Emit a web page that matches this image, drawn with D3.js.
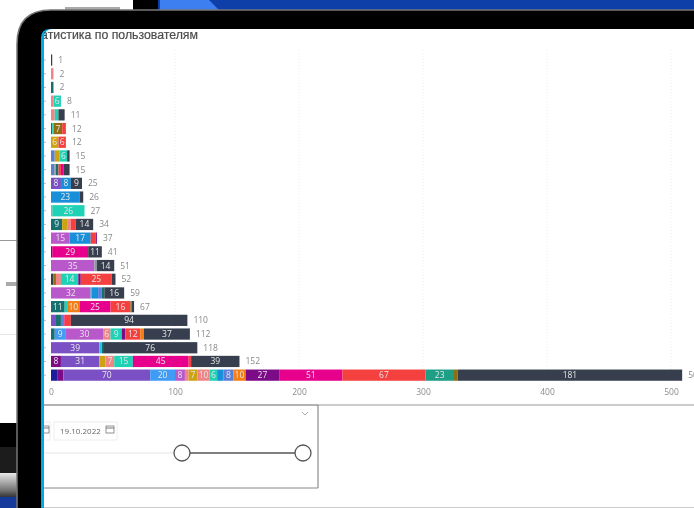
<!DOCTYPE html>
<html>
<head>
<meta charset="utf-8">
<style>
html, body { margin: 0; padding: 0; background: #fff; overflow: hidden; }
svg { display: block; filter: blur(0.35px); }
text { font-family: "Open Sans", sans-serif; }
</style>
<script src="https://cdn.jsdelivr.net/npm/d3@7"></script>
</head>
<body>
<div id="container"></div>
<script>
"use strict"

const titleText = "Статистика по пользователям";
const dateText = "19.10.2022";
const xTicks = [0, 100, 200, 300, 400, 500];

const rowTotals = [1, 2, 2, 8, 11, 12, 12, 15, 15, 25, 26, 27, 34, 37, 41, 51, 52, 59, 67, 110, 112, 118, 152, 509];

const rowValues = [
    [1],
    [2],
    [2],
    [2, 6],
    [3, 3, 5],
    [1, 1, 7, 3],
    [6, 6],
    [3, 4, 6, 2],
    [3, 1, 2, 2, 2, 5],
    [8, 8, 9],
    [23, 3],
    [1, 26],
    [9, 4, 3, 4, 14],
    [15, 17, 4, 1],
    [1, 29, 11],
    [35, 2, 14],
    [2, 2, 4, 14, 2, 25, 3],
    [32, 1, 5, 3, 2, 16],
    [11, 2, 10, 25, 16, 1, 2],
    [4, 4, 2, 1, 5, 94],
    [3, 9, 30, 6, 9, 3, 12, 3, 37],
    [39, 2, 1, 76],
    [8, 31, 5, 7, 15, 45, 2, 39],
    [5, 5, 70, 20, 8, 3, 7, 10, 6, 5, 8, 10, 27, 51, 67, 23, 3, 181]
];

const rowSeries = [
    ["slate"],
    ["salmon"],
    ["teal"],
    ["salmon", "turquoise"],
    ["salmon", "turquoise", "slate"],
    ["teal", "turquoise", "brown", "red"],
    ["gold", "red"],
    ["periwinkle", "gold", "turquoise", "slate"],
    ["periwinkle", "gold", "teal", "red", "magenta", "slate"],
    ["purple", "blue", "slate"],
    ["blue", "slate"],
    ["salmon", "turquoise"],
    ["teal", "gold", "salmon", "red", "slate"],
    ["orchid", "blue", "red", "violet"],
    ["violet", "magenta", "slate"],
    ["orchid", "grey", "slate"],
    ["slate", "brown", "salmon", "turquoise", "violet", "red", "slate"],
    ["orchid", "turquoise", "blue", "periwinkle", "teal", "slate"],
    ["teal", "turquoise", "orange", "magenta", "red", "brown", "slate"],
    ["purple", "teal", "periwinkle", "magenta", "red", "slate"],
    ["teal", "sky", "orchid", "salmon", "turquoise", "violet", "red", "orange", "slate"],
    ["purple", "cyan", "teal", "slate"],
    ["violet", "purple", "gold", "salmon", "turquoise", "magenta", "red", "slate"],
    ["navy", "violet", "purple", "sky", "orchid", "salmon", "gold", "salmon", "turquoise", "blue", "periwinkle", "orange", "violet", "magenta", "red", "green", "brown", "slate"]
];

const seriesColors = {
    slate: "#373f4e", salmon: "#f08585", teal: "#17706f", turquoise: "#1fd2b6",
    brown: "#8f6d12", red: "#f54040", gold: "#cda312", periwinkle: "#5b7fd8",
    purple: "#7a50c4", blue: "#1a8fd9", sky: "#3f9cf6", orchid: "#b858cb",
    violet: "#7c0b87", magenta: "#e6008c", grey: "#8a9aa0", orange: "#f57d12",
    cyan: "#22c6e2", navy: "#1c1c9c", green: "#1f9e86"
};

const labelMinValue = 6;
const width = 694;
const height = 508;
const screenLeft = 44;
const x = d3.scaleLinear().domain([0, 500]).range([51, 671]);
const y = d3.scaleBand().domain(d3.range(rowTotals.length)).range([53.2, 382]).paddingInner(0.18).paddingOuter(0.09);

let svg;
let defs;


function Main()
{
    svg = d3.select("#container").append("svg")
        .attr("width", width)
        .attr("height", height);
    defs = svg.append("defs");

    DrawDevice();
    DrawGrid();
    DrawBars();
    DrawAxis();
    DrawTitle();
    DrawSlicer();
};


function DrawDevice()
{
    const grad = defs.append("linearGradient")
        .attr("id", "keyboard")
        .attr("x1", 0).attr("x2", 0).attr("y1", 0).attr("y2", 1);
    grad.append("stop").attr("offset", "0%").attr("stop-color", "#e8e8e8");
    grad.append("stop").attr("offset", "70%").attr("stop-color", "#777");
    grad.append("stop").attr("offset", "100%").attr("stop-color", "#333");

    // what is behind the tablet
    svg.append("rect").attr("x", 133).attr("y", 0).attr("width", 25).attr("height", 11).attr("fill", "#000");
    svg.append("rect").attr("x", 158).attr("y", 0).attr("width", 536).attr("height", 11).attr("fill", "#0e3fa8");
    svg.append("path").attr("d", "M160,0 L209,0 L219,10 L160,10 Z").attr("fill", "#3d7ff0");
    svg.append("rect").attr("x", 65).attr("y", 7).attr("width", 55).attr("height", 3).attr("fill", "#aaa");

    svg.append("rect").attr("x", 0).attr("y", 240).attr("width", 18).attr("height", 1).attr("fill", "#999");
    svg.append("rect").attr("x", 6).attr("y", 282).attr("width", 12).attr("height", 4).attr("fill", "#aaa");
    svg.append("rect").attr("x", 0).attr("y", 309).attr("width", 18).attr("height", 1).attr("fill", "#e6e6e6");
    svg.append("rect").attr("x", 0).attr("y", 334).attr("width", 18).attr("height", 1).attr("fill", "#e6e6e6");
    svg.append("rect").attr("x", 0).attr("y", 423).attr("width", 18).attr("height", 24).attr("fill", "#000");
    svg.append("rect").attr("x", 0).attr("y", 447).attr("width", 18).attr("height", 26).attr("fill", "#1c1c1c");
    svg.append("rect").attr("x", 0).attr("y", 473).attr("width", 18).attr("height", 24).attr("fill", "url(#keyboard)");
    svg.append("rect").attr("x", 0).attr("y", 497).attr("width", 18).attr("height", 11).attr("fill", "#16399c");

    // tablet body and screen
    svg.append("path")
        .attr("d", "M17,520 L17,44 Q17,10 51,10 L700,10 L700,520 Z")
        .attr("fill", "#000")
        .attr("stroke", "#777")
        .attr("stroke-width", 1.5);
    svg.append("path")
        .attr("d", "M41,520 L41,38 Q41,29 50,29 L700,29 L700,520 Z")
        .attr("fill", "#00a8e8");
    svg.append("path")
        .attr("id", "screen")
        .attr("d", "M44,520 L44,38 Q44,29 53,29 L700,29 L700,520 Z")
        .attr("fill", "#fff");

    defs.append("clipPath").attr("id", "screenClip")
        .append("rect").attr("x", screenLeft).attr("y", 29).attr("width", width).attr("height", height);

    svg.append("rect").attr("x", screenLeft).attr("y", 507).attr("width", 650).attr("height", 1).attr("fill", "#ccc");
};


function DrawGrid()
{
    svg.append("g")
        .selectAll("line")
        .data(xTicks.slice(1))
        .enter()
        .append("line")
        .attr("x1", d => x(d))
        .attr("x2", d => x(d))
        .attr("y1", 50)
        .attr("y2", 369)
        .attr("stroke", "#eeeeee")
        .attr("stroke-dasharray", "1,2");

    // stubs of the y axis, the names are hidden by the tablet edge
    svg.append("g")
        .selectAll("line")
        .data(rowTotals)
        .enter()
        .append("line")
        .attr("x1", screenLeft)
        .attr("x2", screenLeft + 2)
        .attr("y1", (_, i) => y(i) + y.bandwidth() / 2)
        .attr("y2", (_, i) => y(i) + y.bandwidth() / 2)
        .attr("stroke", "#bbb");
};


function DrawBars()
{
    const rows = svg.append("g")
        .selectAll("g")
        .data(rowValues)
        .enter()
        .append("g");

    rows.each(function(values, i)
    {
        const sums = d3.cumsum(values);
        const segments = values.map((v, j) => ({
            value: v,
            start: sums[j] - v,
            end: sums[j],
            color: seriesColors[rowSeries[i][j]]
        }));
        const row = d3.select(this);

        row.selectAll("rect")
            .data(segments)
            .enter()
            .append("rect")
            .attr("x", d => x(d.start))
            .attr("y", y(i))
            .attr("width", d => x(d.end) - x(d.start))
            .attr("height", y.bandwidth())
            .attr("fill", d => d.color);

        row.selectAll("text")
            .data(segments.filter(d => d.value >= labelMinValue))
            .enter()
            .append("text")
            .attr("x", d => (x(d.start) + x(d.end)) / 2)
            .attr("y", y(i) + y.bandwidth() / 2)
            .attr("dy", "0.35em")
            .attr("text-anchor", "middle")
            .attr("font-size", 8.5)
            .attr("fill", "#e6e6e6")
            .text(d => d.value);

        row.append("text")
            .attr("x", x(rowTotals[i]) + 6)
            .attr("y", y(i) + y.bandwidth() / 2)
            .attr("dy", "0.35em")
            .attr("font-size", 8.5)
            .attr("fill", "#888")
            .text(rowTotals[i]);
    });
};


function DrawAxis()
{
    const axis = svg.append("g")
        .attr("transform", "translate(0,384)")
        .call(d3.axisBottom(x).tickValues(xTicks).tickSize(0).tickPadding(5));

    axis.select(".domain").remove();
    axis.selectAll("text")
        .attr("font-size", 8.5)
        .attr("font-family", "'Open Sans', sans-serif")
        .attr("fill", "#8c8c8c");
};


function DrawTitle()
{
    svg.append("text")
        .attr("clip-path", "url(#screenClip)")
        .attr("x", 198)
        .attr("y", 39)
        .attr("text-anchor", "end")
        .attr("font-family", "'Liberation Sans', sans-serif")
        .style("font-family", "'Liberation Sans', sans-serif")
        .attr("font-size", 12.3)
        .attr("fill", "#4d4d4d")
        .attr("stroke", "#4d4d4d")
        .attr("stroke-width", 0.2)
        .text(titleText);
};


function DrawSlicer()
{
    const g = svg.append("g").attr("clip-path", "url(#screenClip)");

    // panel borders
    g.append("line").attr("x1", screenLeft).attr("x2", 318).attr("y1", 405).attr("y2", 405)
        .attr("stroke", "#666").attr("stroke-width", 1.2);
    g.append("line").attr("x1", 318).attr("x2", 694).attr("y1", 405).attr("y2", 405)
        .attr("stroke", "#999").attr("stroke-width", 1);
    g.append("line").attr("x1", 318).attr("x2", 318).attr("y1", 405).attr("y2", 488)
        .attr("stroke", "#777");
    g.append("line").attr("x1", screenLeft).attr("x2", 318).attr("y1", 488).attr("y2", 488)
        .attr("stroke", "#888");

    // chevron
    g.append("path").attr("d", "M302,412 L305,415 L308,412")
        .attr("fill", "none").attr("stroke", "#aaa");

    // date boxes
    g.append("rect").attr("x", 30).attr("y", 422).attr("width", 20).attr("height", 18)
        .attr("fill", "none").attr("stroke", "#eee");
    g.append("rect").attr("x", 54).attr("y", 422).attr("width", 63).attr("height", 18)
        .attr("fill", "none").attr("stroke", "#eee");
    g.append("text").attr("x", 60).attr("y", 434)
        .attr("font-size", 8).attr("fill", "#666").text(dateText);
    DrawCalendar(g, 106, 426);
    DrawCalendar(g, 41, 426);

    // slider
    g.append("line").attr("x1", screenLeft).attr("x2", 174).attr("y1", 453).attr("y2", 453)
        .attr("stroke", "#eee").attr("stroke-width", 1.5);
    g.append("line").attr("x1", 182).attr("x2", 303).attr("y1", 453).attr("y2", 453)
        .attr("stroke", "#555").attr("stroke-width", 1.5);
    g.selectAll("circle")
        .data([182, 303])
        .enter()
        .append("circle")
        .attr("cx", d => d)
        .attr("cy", 453)
        .attr("r", 8)
        .attr("fill", "#fff")
        .attr("stroke", "#555")
        .attr("stroke-width", 1.3);
};


function DrawCalendar(g, left, top)
{
    g.append("rect").attr("x", left).attr("y", top).attr("width", 8).attr("height", 7)
        .attr("fill", "none").attr("stroke", "#777").attr("stroke-width", 0.8);
    g.append("line").attr("x1", left).attr("x2", left + 8).attr("y1", top + 2).attr("y2", top + 2)
        .attr("stroke", "#777").attr("stroke-width", 1);
};


Main();
</script>
</body>
</html>
